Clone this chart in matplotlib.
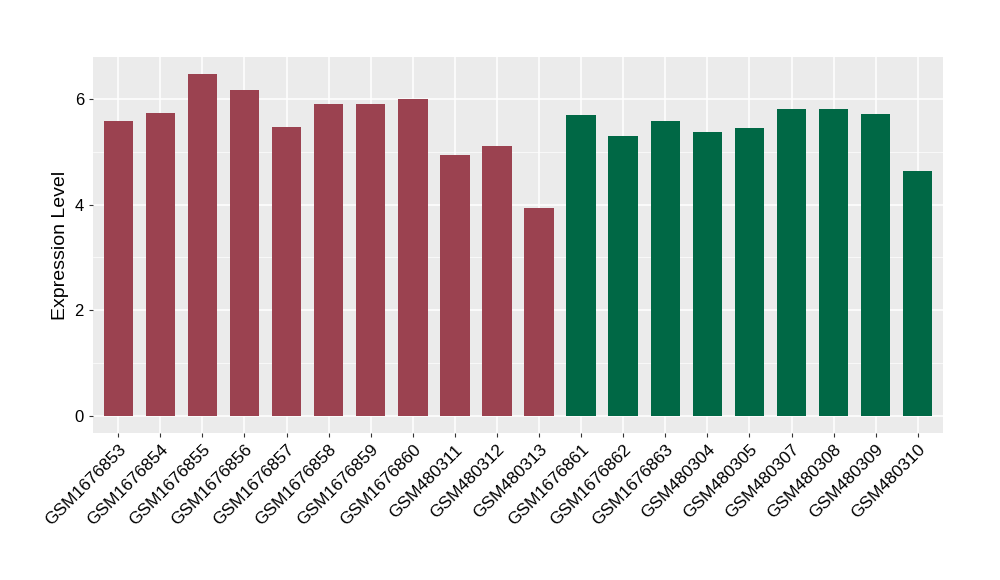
import matplotlib
matplotlib.use("Agg")
import matplotlib.pyplot as plt
import numpy as np

plt.rcParams['font.family'] = ['Liberation Sans', 'DejaVu Sans']

samples = ["GSM1676853", "GSM1676854", "GSM1676855", "GSM1676856", "GSM1676857",
           "GSM1676858", "GSM1676859", "GSM1676860", "GSM480311", "GSM480312",
           "GSM480313", "GSM1676861", "GSM1676862", "GSM1676863", "GSM480304",
           "GSM480305", "GSM480307", "GSM480308", "GSM480309", "GSM480310"]
values = [5.58, 5.74, 6.47, 6.17, 5.47, 5.91, 5.91, 6.00, 4.94, 5.11,
          3.94, 5.70, 5.30, 5.58, 5.38, 5.45, 5.81, 5.81, 5.72, 4.64]
groups = ["a"] * 11 + ["b"] * 9
group_colors = {"a": "#9B4250", "b": "#006845"}

fig = plt.figure(figsize=(10, 5.8), dpi=100)
ax = fig.add_axes([0.093, 0.2534, 0.85, 0.6483])
ax.set_facecolor("#EBEBEB")

x = np.arange(len(samples))
ax.bar(x, values, width=0.7, color=[group_colors[g] for g in groups], zorder=3)

ax.set_xlim(-0.6, len(samples) - 0.4)
ax.set_ylim(-0.32, 6.79)
ax.set_yticks([0, 2, 4, 6])
ax.set_yticks([1, 3, 5], minor=True)
ax.grid(which="major", color="white", linewidth=1.1, zorder=0)
ax.grid(which="minor", axis="y", color="white", linewidth=0.5, zorder=0)
ax.set_axisbelow(True)

ax.set_xticks(x)
ax.set_xticklabels(samples, rotation=45, ha="right", rotation_mode="anchor", fontsize=12.5)
ax.tick_params(axis="y", labelsize=12, length=3, color="#333333", which="major")
ax.tick_params(axis="x", length=3, color="#333333")
ax.tick_params(which="minor", length=0)
for s in ax.spines.values():
    s.set_visible(False)

ax.set_ylabel("Expression Level", fontsize=14)

fig.savefig("out.png", dpi=100)
